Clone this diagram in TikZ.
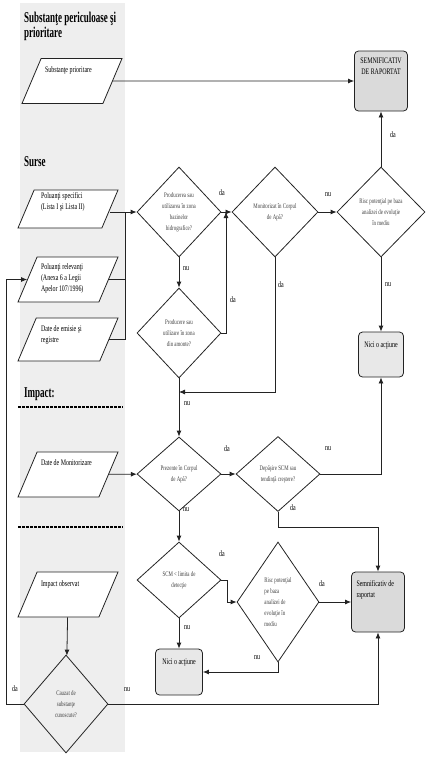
\documentclass[tikz,border=0pt]{standalone}
\usepackage{fontspec}
\usepackage{tikz}
\usetikzlibrary{shapes.geometric,arrows.meta}

\newfontfamily\flowfont[FakeStretch=0.7]{Liberation Serif}
\newfontfamily\headfont[FakeStretch=0.6]{Liberation Serif}

\definecolor{bandgray}{RGB}{238,238,238}
\definecolor{boxgray}{RGB}{218,218,218}
\definecolor{lightbox}{RGB}{232,232,232}
\definecolor{inkgray}{RGB}{35,35,35}

\newcommand{\toptext}[3]{\parbox[c][#1][t]{#2}{\raggedright #3}}

\begin{document}
\begin{tikzpicture}[x=1pt, y=-1pt,
    every node/.style={font=\flowfont\fontsize{8.5}{11}\selectfont},
    heading/.style={font=\headfont\bfseries\fontsize{15}{15}\selectfont, anchor=base west, inner sep=0pt},
    datain/.style={draw=inkgray, line width=0.8pt, fill=white, trapezium, trapezium left angle=67, trapezium right angle=113, trapezium stretches body, minimum width=100pt, inner xsep=0pt},
    decision/.style={draw=inkgray, line width=0.8pt, diamond, inner sep=0pt, align=center, text=black!75, font=\flowfont\fontsize{7}{11}\selectfont},
    result/.style={draw=inkgray, line width=0.8pt, rounded corners=4pt, fill=boxgray, inner sep=0pt},
    noaction/.style={result, fill=lightbox},
    lab/.style={inner sep=0pt},
    arr/.style={draw=inkgray, line width=0.8pt, -{Latex[length=6pt,width=5pt]}},
    link/.style={draw=inkgray, line width=0.8pt},
    divider/.style={line width=1.1pt, dash pattern=on 2.5pt off 1.5pt}
]
\useasboundingbox (0,0) rectangle (429,758);

\fill[bandgray] (20,3) rectangle (125,752);

\node[heading, anchor=north west, align=left] (hsub) at (24,12) {Substanţe periculoase şi\\prioritare};
\node[heading] (hsurse) at (24,166) {Surse};
\node[heading] (himpact) at (24,397) {Impact:};

\draw[divider] (18,407) -- (123,407);
\draw[divider] (18,527) -- (123,527);

\node[datain, inner ysep=8pt] (prio) at (72,81) {\toptext{29pt}{54pt}{Substanţe prioritare}};
\node[datain, inner ysep=3pt] (spec) at (68,209) {\toptext{32pt}{54pt}{Poluanţi specifici\\(Lista I şi Lista II)}};
\node[datain, inner ysep=7pt] (relev) at (68,279.5) {\toptext{31pt}{54pt}{Poluanţi relevanţi\\(Anexa 6 a Legii\\Apelor 107/1996)}};
\node[datain, inner ysep=8pt] (emis) at (68,339.5) {\toptext{27pt}{54pt}{Date de emisie şi\\registre}};
\node[datain, inner ysep=8pt] (monit) at (68,474.5) {\toptext{29pt}{54pt}{Date de Monitorizare}};
\node[datain, inner ysep=9pt] (obs) at (68,594.5) {\toptext{27pt}{54pt}{Impact observat}};

\node[decision, minimum width=84pt, minimum height=90pt] (zona) at (179,212) {Producerea sau\\utilizarea în zona\\bazinelor\\hidrografice?};
\node[decision, minimum width=84pt, minimum height=90pt] (amonte) at (179,333) {Producere sau\\utilizare în zona\\din amonte?};
\node[decision, minimum width=86pt, minimum height=90pt] (monitcorp) at (275,212) {Monitorizat în Corpul\\de Apă?};
\node[decision, minimum width=88pt, minimum height=90pt] (risc) at (381,212) {Risc potenţial pe baza\\analizei de evoluţie\\în mediu};
\node[decision, minimum width=84pt, minimum height=74pt] (prezent) at (179,474) {Prezente în Corpul\\de Apă?};
\node[decision, minimum width=84pt, minimum height=75pt] (depasire) at (278,474) {Depăşire SCM sau\\tendinţă creştere?};
\node[decision, minimum width=84pt, minimum height=76pt] (limita) at (179,580) {SCM < limita de\\detecţie};
\node[decision, minimum width=82pt, minimum height=120pt, align=left] (risclow) at (278,602) {Risc potenţial\\pe baza\\analizei de\\evoluţie în\\mediu};
\node[decision, minimum width=84pt, minimum height=98pt] (cauzat) at (66,704) {Cauzat de\\substanţe\\cunoscute?};

\node[result, minimum width=53pt, minimum height=60pt, inner xsep=3pt, inner ysep=7pt] (raport) at (381,81) {\toptext{46pt}{47pt}{\centering SEMNIFICATIV\\DE RAPORTAT}};
\node[noaction, minimum width=45pt, minimum height=45pt, inner xsep=3pt, inner ysep=10pt] (nimic) at (381,354.5) {\toptext{25pt}{39pt}{\centering Nici o acţiune}};
\node[result, minimum width=53pt, minimum height=60pt, inner xsep=5pt, inner ysep=9pt] (semnif) at (378,602) {\toptext{42pt}{43pt}{Semnificativ de\\raportat}};
\node[noaction, minimum width=47pt, minimum height=46pt, inner xsep=4pt, inner ysep=10pt] (nimic2) at (179,672) {\toptext{26pt}{39pt}{\centering Nici o acţiune}};

\coordinate (bus) at (125,212);
\coordinate (join) at (226,212);
\coordinate (merge) at (179,392);
\coordinate (back) at (6,704);

\draw[arr] (prio) -- (raport);
\draw[arr] (spec.east |- zona.west) -- (zona.west);
\draw[link] (relev.east) -- (relev.east -| bus);
\draw[link] (emis.east) -| (bus);
\draw[arr] (zona) -- (amonte);
\draw[arr] (zona) -- (monitcorp);
\draw[arr] (amonte.east) -| (join);
\draw[arr] (monitcorp) -- (risc);
\draw[arr] (risc) -- (raport);
\draw[arr] (risc) -- (nimic);
\draw[arr] (monitcorp.south) |- (merge);
\draw[arr] (amonte) -- (prezent);
\draw[arr] (monit) -- (prezent);
\draw[arr] (prezent) -- (depasire);
\draw[arr] (prezent) -- (limita);
\draw[arr] (depasire.east) -| (nimic.south);
\draw[arr] (depasire.south) -- ++(0,15) -| (semnif.north);
\draw[arr] (limita.east) -- ++(6,0) |- (risclow.west);
\draw[arr] (limita) -- (nimic2);
\draw[arr] (risclow) -- (semnif);
\draw[arr] (risclow.south) |- (nimic2.east);
\draw[arr] (obs) -- (cauzat);
\draw[arr] (cauzat.east) -| (semnif.south);
\draw[arr] (cauzat.west) -- (back) |- (relev.west);

\node[lab] (da1) at (222,193) {da};
\node[lab] (nu1) at (186,269) {nu};
\node[lab] (da2) at (233,300) {da};
\node[lab] (nu2) at (328,195) {nu};
\node[lab] (da3) at (281,285) {da};
\node[lab] (da4) at (393,135) {da};
\node[lab] (nu3) at (388,285) {nu};
\node[lab] (nu4) at (187,404) {nu};
\node[lab] (da5) at (227,449) {da};
\node[lab] (nu5) at (328,449) {nu};
\node[lab] (nu6) at (186,510) {nu};
\node[lab] (da6) at (293,508) {da};
\node[lab] (da7) at (222,554) {da};
\node[lab] (da8) at (322,584) {da};
\node[lab] (nu7) at (187,628) {nu};
\node[lab] (nu8) at (257,658) {nu};
\node[lab] (da9) at (15,689) {da};
\node[lab] (nu9) at (127,690) {nu};

\end{tikzpicture}
\end{document}
